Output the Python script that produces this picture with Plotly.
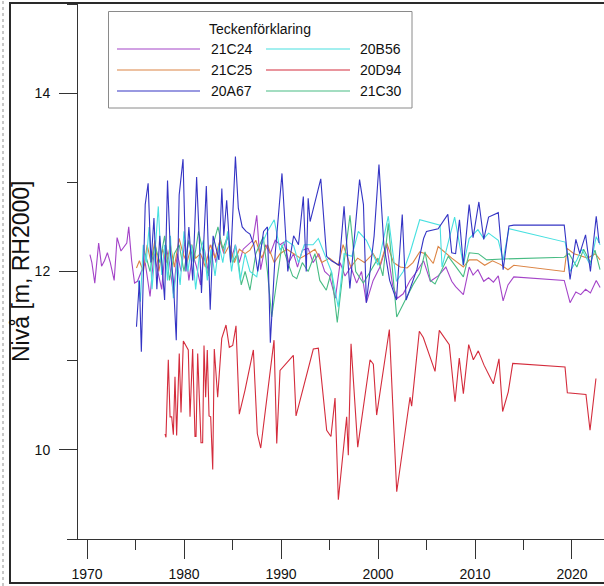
import plotly.graph_objects as go

# ---------------- data ----------------
names = ["21C24", "21C25", "20A67", "20B56", "20D94", "21C30"]

y_21C24 = [1970.3, 1970.5, 1970.8, 1971.2, 1971.5, 1971.8, 1972.1, 1972.4, 1972.8, 1973.1,
           1973.5, 1973.8, 1974.1, 1974.3, 1974.6, 1974.9, 1975.2, 1975.6, 1976.0, 1976.5,
           1976.9, 1977.3, 1977.7, 1978.1, 1978.5, 1978.9, 1979.3, 1979.7, 1980.1, 1980.5,
           1980.9, 1981.3, 1981.7, 1982.1, 1982.5, 1982.9, 1983.3, 1983.7, 1984.1, 1984.5,
           1984.9, 1985.3, 1985.7, 1986.1, 1986.6, 1987.1, 1987.5, 1987.9, 1988.4, 1988.9,
           1989.4, 1989.9, 1990.3, 1990.8, 1991.3, 1991.7, 1992.2, 1992.8, 1993.3, 1993.9,
           1994.5, 1995.0, 1995.6, 1996.1, 1996.6, 1997.2, 1997.8, 1998.3, 1998.8, 1999.5,
           2000.2, 2000.9, 2001.5, 2002.0, 2002.6, 2003.3, 2004.0, 2004.7, 2005.4, 2006.2,
           2007.0, 2007.6, 2008.0, 2008.8, 2009.4, 2009.8, 2010.3, 2010.9, 2011.4, 2011.9,
           2012.4, 2012.9, 2013.4, 2014.0, 2019.2, 2019.8, 2020.4, 2020.9, 2021.4, 2021.9,
           2022.5, 2022.9]
v_21C24 = [12.19, 12.10, 11.87, 12.32, 12.06, 12.12, 12.21, 12.10, 11.90, 12.38,
           12.23, 12.27, 12.32, 12.50, 12.12, 11.87, 11.89, 12.00, 12.10, 11.72,
           12.20, 12.00, 11.80, 12.30, 12.10, 11.75, 12.20, 12.00, 12.35, 11.90,
           12.20, 12.05, 11.85, 12.25, 12.00, 12.30, 12.10, 12.35, 12.20, 12.40,
           12.15, 12.30, 12.10, 12.25, 12.30, 12.35, 12.63, 12.02, 12.30, 12.20,
           12.35, 12.30, 12.33, 12.10, 12.20, 12.05, 12.24, 12.26, 12.10, 12.20,
           12.00, 11.95, 11.70, 12.10, 11.95, 12.05, 11.87, 12.00, 11.65, 11.90,
           12.05, 12.30, 11.85, 11.70, 11.75, 11.90, 12.00, 12.12, 11.89, 11.95,
           12.05, 11.89, 11.83, 11.74, 12.05, 11.96, 12.02, 11.89, 11.93, 11.88,
           11.95, 11.67, 11.85, 11.94, 11.90, 11.65, 11.77, 11.74, 11.80, 11.76,
           11.90, 11.82]

y_21C25 = [1975.1, 1975.4, 1975.8, 1976.2, 1976.6, 1977.0, 1977.4, 1977.8, 1978.2, 1978.6,
           1979.0, 1979.5, 1979.9, 1980.3, 1980.8, 1981.2, 1981.7, 1982.2, 1982.7, 1983.2,
           1983.7, 1984.2, 1984.7, 1985.2, 1985.7, 1986.3, 1986.8, 1987.4, 1988.0, 1988.6,
           1989.3, 1989.9, 1990.6, 1991.3, 1992.0, 1992.8, 1993.5, 1994.2, 1995.0, 1995.9,
           1996.4, 1997.2, 1997.9, 1998.6, 1999.5, 2000.2, 2000.9, 2001.6, 2002.3, 2003.0,
           2003.6, 2004.3, 2004.9, 2005.7, 2006.2, 2007.6, 2008.8, 2009.4, 2010.2, 2011.0,
           2011.8, 2012.6, 2013.4, 2014.0, 2019.2, 2019.5, 2020.2, 2020.8, 2021.6, 2022.4,
           2022.9]
v_21C25 = [12.04, 12.12, 12.00, 12.30, 12.10, 12.35, 12.00, 12.25, 12.10, 12.30,
           12.05, 12.37, 12.20, 12.10, 12.30, 12.15, 12.20, 12.05, 12.30, 12.15,
           12.35, 12.20, 12.30, 12.10, 12.25, 12.20, 12.24, 12.35, 12.15, 12.30,
           12.10, 12.20, 12.25, 12.20, 12.15, 12.20, 12.25, 12.10, 12.15, 12.07,
           12.30, 12.05, 12.15, 12.10, 12.20, 12.07, 12.32, 12.10, 12.05, 12.04,
           12.10, 12.22, 12.20, 12.09, 12.28, 12.15, 12.05, 12.13, 12.13, 12.07,
           12.12, 12.08, 12.02, 12.07, 12.00, 12.26, 12.20, 12.18, 12.15, 12.20,
           12.13]

y_20A67 = [1975.1, 1975.4, 1975.6, 1976.0, 1976.3, 1976.6, 1976.9, 1977.2, 1977.5, 1977.8,
           1978.0, 1978.3, 1978.6, 1978.9, 1979.2, 1979.5, 1979.9, 1980.2, 1980.5, 1980.9,
           1981.3, 1981.6, 1981.8, 1982.3, 1982.7, 1983.0, 1983.6, 1983.9, 1984.1, 1984.4,
           1984.8, 1985.3, 1985.6, 1986.0, 1986.4, 1986.8, 1987.2, 1987.6, 1988.2, 1988.6,
           1988.9, 1989.4, 1990.1, 1990.7, 1991.3, 1991.8, 1992.3, 1992.6, 1992.8, 1993.0,
           1994.1, 1994.7, 1995.2, 1996.0, 1996.5, 1997.1, 1998.1, 1998.5, 1998.8, 1999.6,
           2000.1, 2000.6, 2001.2, 2001.9, 2002.5, 2002.9, 2004.0, 2004.7, 2005.0, 2006.2,
           2007.2, 2007.6, 2008.0, 2008.4, 2008.8, 2009.4, 2009.8, 2010.4, 2010.9, 2011.4,
           2012.4, 2012.9, 2013.5, 2014.0, 2019.2, 2019.8, 2020.4, 2020.8, 2021.4, 2021.9,
           2022.5, 2022.8]
v_20A67 = [11.38, 11.90, 11.10, 12.75, 12.99, 12.10, 12.60, 11.80, 12.40, 12.00,
           11.68, 13.02, 12.20, 11.90, 11.23, 12.86, 13.26, 12.00, 12.50, 11.90,
           13.06, 12.30, 11.76, 12.96, 11.57, 12.40, 12.13, 12.93, 12.40, 12.80,
           12.10, 13.29, 12.71, 12.50, 12.45, 12.42, 12.30, 12.00, 12.45, 12.50,
           11.20, 12.20, 13.10, 12.00, 12.40, 12.30, 12.84, 12.00, 12.82, 12.56,
           13.04, 12.17, 12.12, 12.07, 12.73, 11.81, 13.03, 12.75, 11.65, 12.40,
           13.20, 12.30, 11.90, 11.68, 12.64, 11.68, 12.02, 12.37, 12.45, 12.48,
           12.64, 12.21, 12.20, 12.58, 12.07, 12.75, 12.38, 12.78, 12.36, 12.61,
           12.66, 12.02, 12.51, 12.52, 12.52, 11.91, 12.36, 12.20, 12.41, 12.00,
           12.62, 12.32]

y_20B56 = [1975.3, 1975.5, 1975.8, 1976.1, 1976.4, 1976.7, 1977.0, 1977.35, 1977.7, 1978.0,
           1978.3, 1978.6, 1978.9, 1979.3, 1979.6, 1980.0, 1980.4, 1980.8, 1981.2, 1981.6,
           1982.0, 1982.4, 1982.8, 1983.2, 1983.6, 1984.0, 1984.5, 1984.9, 1985.3, 1985.8,
           1986.3, 1986.8, 1987.5, 1988.0, 1988.6, 1989.3, 1989.9, 1990.5, 1991.3, 1991.8,
           1992.4, 1993.3, 1993.85, 1994.5, 1995.2, 1995.9, 1996.5, 1997.3, 1997.97, 1998.8,
           1999.4, 2000.0, 2001.06, 2001.9, 2002.6, 2003.3, 2004.3, 2006.4, 2006.6, 2007.9,
           2008.8, 2009.4, 2010.3, 2010.9, 2011.4, 2012.4, 2012.9, 2013.5, 2019.3, 2019.8,
           2020.5, 2021.0, 2021.9, 2022.5, 2022.9]
v_20B56 = [11.90, 11.66, 12.30, 12.10, 12.50, 11.80, 12.20, 12.73, 11.96, 12.30,
           11.90, 12.40, 11.70, 12.10, 11.85, 12.45, 12.00, 12.30, 11.80, 12.20,
           12.35, 11.90, 12.25, 11.95, 12.30, 12.10, 12.45, 12.00, 12.30, 11.90,
           12.20, 12.00, 11.94, 12.30, 12.45, 12.58, 12.24, 12.35, 12.29, 12.10,
           12.30, 12.30, 12.37, 12.20, 12.00, 11.60, 12.20, 12.17, 12.45, 12.35,
           12.20, 12.07, 12.62, 11.89, 12.00, 12.21, 12.58, 12.52, 12.05, 12.61,
           12.07, 12.37, 12.47, 12.37, 12.43, 12.35, 12.13, 12.48, 12.33, 12.00,
           12.13, 12.25, 12.07, 12.39, 12.30]

y_20D94 = [1978.04, 1978.14, 1978.38, 1978.56, 1978.73, 1978.90, 1979.07, 1979.24, 1979.51, 1979.69,
           1979.93, 1980.27, 1980.44, 1980.62, 1980.89, 1981.13, 1981.24, 1981.41, 1981.65, 1981.75,
           1981.92, 1982.06, 1982.23, 1982.40, 1982.58, 1982.75, 1982.96, 1983.12, 1983.47, 1983.89,
           1984.33, 1984.67, 1985.02, 1985.36, 1985.70, 1986.29, 1987.15, 1987.56, 1987.91, 1989.28,
           1989.56, 1989.90, 1991.27, 1991.55, 1993.33, 1993.85, 1994.71, 1995.15, 1995.57, 1995.91,
           1996.77, 1996.94, 1997.22, 1997.91, 1999.18, 1999.52, 1999.86, 2001.17, 2001.93, 2003.30,
           2003.47, 2004.26, 2004.67, 2005.88, 2006.32, 2007.35, 2007.94, 2008.38, 2008.80, 2009.35,
           2009.83, 2010.34, 2010.93, 2011.89, 2012.47, 2012.85, 2013.43, 2013.89, 2019.28, 2019.52,
           2021.44, 2021.86, 2022.47]
v_20D94 = [10.18, 10.14, 11.01, 10.37, 10.37, 10.17, 10.82, 10.16, 11.08, 10.42,
           11.22, 11.14, 11.12, 10.37, 11.13, 10.15, 10.15, 11.08, 10.36, 10.08,
           10.08, 11.17, 10.59, 11.12, 10.38, 10.37, 9.78, 11.13, 10.59, 11.25,
           11.40, 11.15, 11.17, 11.39, 10.40, 10.67, 11.12, 10.18, 10.02, 11.23,
           10.07, 10.89, 11.06, 10.38, 11.13, 11.14, 10.22, 10.15, 10.58, 9.44,
           10.37, 9.94, 11.19, 10.03, 11.01, 10.96, 10.39, 11.35, 9.53, 10.59,
           10.49, 11.33, 11.26, 10.88, 11.34, 11.18, 10.54, 11.03, 10.63, 11.18,
           11.01, 11.11, 10.95, 10.74, 11.02, 10.43, 10.65, 10.97, 10.93, 10.64,
           10.62, 10.22, 10.80]

y_21C30 = [1976.0, 1976.5, 1977.0, 1977.5, 1978.0, 1978.5, 1979.0, 1979.5, 1980.0, 1980.5,
           1981.0, 1981.5, 1982.0, 1982.5, 1983.0, 1983.5, 1984.0, 1984.5, 1985.0, 1985.5,
           1985.9, 1986.3, 1986.8, 1987.4, 1988.17, 1988.6, 1989.04, 1989.56, 1990.1, 1990.7,
           1991.2, 1991.62, 1992.2, 1992.8, 1993.5, 1994.0, 1994.67, 1995.2, 1995.8, 1996.5,
           1997.11, 1997.7, 1998.49, 1999.2, 2000.0, 2000.5, 2001.06, 2001.93, 2002.96, 2003.6,
           2004.33, 2004.85, 2005.4, 2005.88, 2007.25, 2008.8, 2009.41, 2010.34, 2011.2, 2012.85,
           2019.18, 2019.7, 2020.5, 2021.2, 2021.9, 2022.37, 2022.89]
v_21C30 = [12.20, 12.00, 12.30, 12.10, 12.40, 11.90, 12.20, 12.30, 12.00, 12.35,
           12.10, 12.45, 12.20, 11.95, 12.30, 12.50, 12.25, 12.40, 12.10, 12.20,
           11.85, 12.00, 11.79, 12.20, 12.39, 12.00, 11.49, 11.87, 12.30, 12.10,
           11.95, 11.92, 12.10, 12.00, 12.20, 11.90, 11.79, 12.00, 11.43, 12.10,
           12.63, 12.00, 11.87, 12.00, 12.15, 11.95, 12.54, 11.49, 11.72, 11.85,
           11.98, 12.22, 11.90, 11.86, 12.17, 11.94, 12.21, 12.20, 12.13, 12.14,
           12.16, 12.20, 12.05, 12.25, 12.10, 12.24, 12.02]

series = {
    "21C24": (y_21C24, v_21C24),
    "21C25": (y_21C25, v_21C25),
    "20A67": (y_20A67, v_20A67),
    "20B56": (y_20B56, v_20B56),
    "20D94": (y_20D94, v_20D94),
    "21C30": (y_21C30, v_21C30),
}
colors = {
    "21C24": "#a444c8",
    "21C25": "#dc8444",
    "20A67": "#3434c4",
    "20B56": "#48e0e0",
    "20D94": "#d42c3c",
    "21C30": "#48bc84",
}
draw_order = ["21C24", "21C25", "21C30", "20B56", "20A67", "20D94"]

x_ticks = [1970, 1980, 1990, 2000, 2010, 2020]
y_ticks = [10, 12, 14]
y_title = "Nivå [m, RH2000]"
legend_title = "Teckenförklaring"
legend_cols = [["21C24", "21C25", "20A67"], ["20B56", "20D94", "21C30"]]

# ---------------- layout helpers (pixel -> paper) ----------------
W, H = 604, 586
L, R, T, B = 78, 0, 4, 47
PW, PH = W - L - R, H - T - B


def px(x):
    return (x - L) / PW


def py(y):
    return (H - B - y) / PH


FONT = "Liberation Sans, Arial, sans-serif"

fig = go.Figure()
for name in draw_order:
    xs, vs = series[name]
    assert len(xs) == len(vs), name
    fig.add_trace(go.Scatter(x=xs, y=vs, mode="lines", name=name,
                             line=dict(color=colors[name], width=1.1),
                             showlegend=False))

shapes = []
annotations = []

# outer frame
shapes.append(dict(type="rect", xref="paper", yref="paper",
                   x0=px(10), x1=px(620), y0=py(583), y1=py(3),
                   line=dict(color="#2a2a2a", width=2), fillcolor="rgba(0,0,0,0)", layer="above"))
shapes.append(dict(type="line", xref="paper", yref="paper",
                   x0=px(3), x1=px(3), y0=py(586), y1=py(0),
                   line=dict(color="#c8c8c8", width=2, dash="dot")))

# legend box
shapes.append(dict(type="rect", xref="paper", yref="paper",
                   x0=px(108.5), x1=px(412), y0=py(108), y1=py(11.5),
                   line=dict(color="#8a8a8a", width=1), fillcolor="white", layer="above"))
annotations.append(dict(text=legend_title, xref="paper", yref="paper", x=px(260), y=py(29),
                        showarrow=False, xanchor="center", yanchor="middle",
                        font=dict(family=FONT, size=14, color="#111")))
row_y = [49, 70, 91]
col_line = [(117, 200, 209), (266, 350, 358)]
for ci, col in enumerate(legend_cols):
    x0, x1, tx = col_line[ci]
    for ri, name in enumerate(col):
        yy = row_y[ri]
        shapes.append(dict(type="line", xref="paper", yref="paper",
                           x0=px(x0), x1=px(x1), y0=py(yy), y1=py(yy),
                           line=dict(color=colors[name], width=1.2), layer="above"))
        annotations.append(dict(text=name, xref="paper", yref="paper", x=px(tx), y=py(yy),
                                showarrow=False, xanchor="left", yanchor="middle",
                                font=dict(family=FONT, size=14, color="#111")))

# y-axis title
annotations.append(dict(text=y_title, xref="paper", yref="paper", x=px(21), y=py(271),
                        showarrow=False, textangle=-90, xanchor="center", yanchor="middle",
                        font=dict(family=FONT, size=23, color="#111")))

fig.update_layout(
    width=W, height=H,
    margin=dict(l=L, r=R, t=T, b=B, pad=0),
    paper_bgcolor="white", plot_bgcolor="white",
    shapes=shapes, annotations=annotations,
    font=dict(family=FONT, size=14, color="#111"),
    hovermode=False,
)
fig.update_xaxes(
    range=[1969.07, 2023.3], tickmode="array", tickvals=x_ticks,
    ticktext=[str(t) for t in x_ticks],
    showline=True, linecolor="#333", linewidth=1, showgrid=False, zeroline=False,
    ticks="outside", ticklen=19, tickcolor="#333", tickwidth=1,
    minor=dict(tickmode="linear", tick0=1965, dtick=5, ticks="outside", ticklen=10,
               tickcolor="#333", tickwidth=1, showgrid=False),
    ticklabelstandoff=3,
    tickfont=dict(family=FONT, size=14, color="#111"),
)
fig.update_yaxes(
    range=[9, 15], tickmode="array", tickvals=y_ticks,
    ticktext=[str(t) for t in y_ticks],
    showline=True, linecolor="#333", linewidth=1, showgrid=False, zeroline=False,
    ticks="outside", ticklen=18, tickcolor="#333", tickwidth=1,
    minor=dict(tickmode="linear", tick0=9, dtick=1, ticks="outside", ticklen=10,
               tickcolor="#333", tickwidth=1, showgrid=False),
    ticklabelstandoff=6,
    tickfont=dict(family=FONT, size=14, color="#111"),
)

fig.write_html("out.html")
